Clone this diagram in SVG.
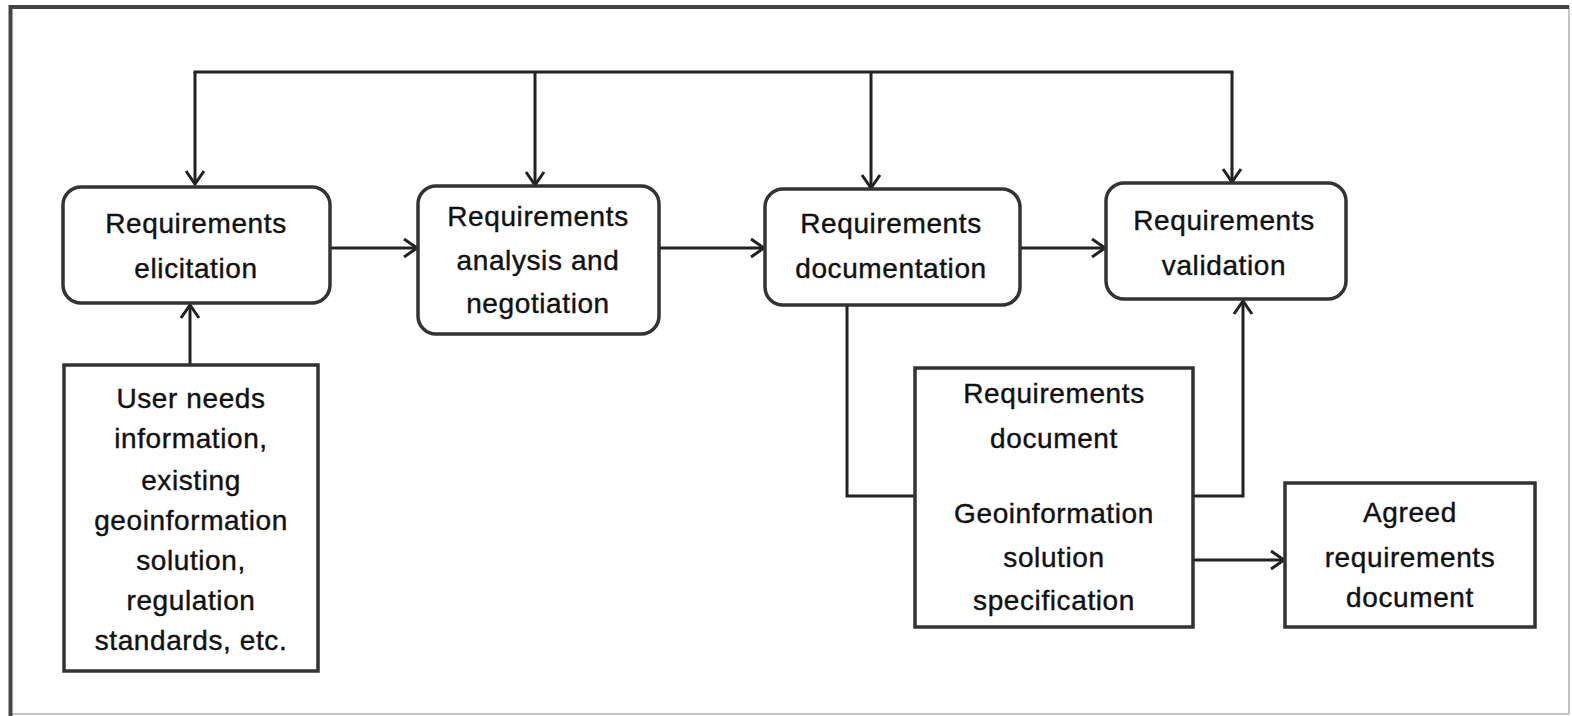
<svg xmlns="http://www.w3.org/2000/svg" width="1572" height="716" viewBox="0 0 1572 716">
  <style>
    .box { fill: #ffffff; stroke: #333333; stroke-width: 3.5; }
    .lbl { font-family: "Liberation Sans", Arial, sans-serif; font-size: 28px; fill: #111111; stroke: #111111; stroke-width: 0.4px; text-anchor: middle; letter-spacing: 0.6px; }
    .conn { fill: none; stroke: #222222; stroke-width: 3; }
  </style>
  <defs>
    <marker id="arr" markerUnits="userSpaceOnUse" markerWidth="18" markerHeight="22" viewBox="0 0 18 22" refX="16" refY="11" orient="auto">
      <path d="M3,2 L16,11 L3,20" fill="none" stroke="#222222" stroke-width="3"/>
    </marker>
  </defs>
  <rect x="0" y="0" width="1572" height="716" fill="#ffffff"/>
  <g id="frame">
    <line x1="1569" y1="6" x2="1569" y2="714" stroke="#b0b0b0" stroke-width="1.5"/>
    <line x1="10" y1="714" x2="1569" y2="714" stroke="#b0b0b0" stroke-width="1.5"/>
    <path d="M10.5,716 L10.5,7 L1569,7" fill="none" stroke="#444444" stroke-width="4"/>
  </g>
  <g id="connectors">
    <line class="conn" x1="193.5" y1="72" x2="1233.5" y2="72"/>
    <line class="conn" x1="195" y1="72" x2="195" y2="184" marker-end="url(#arr)"/>
    <line class="conn" x1="535" y1="72" x2="535" y2="185" marker-end="url(#arr)"/>
    <line class="conn" x1="871" y1="72" x2="871" y2="188" marker-end="url(#arr)"/>
    <line class="conn" x1="1232" y1="72" x2="1232" y2="182" marker-end="url(#arr)"/>
    <line class="conn" x1="190" y1="365" x2="190" y2="305" marker-end="url(#arr)"/>
    <line class="conn" x1="330" y1="248" x2="417" y2="248" marker-end="url(#arr)"/>
    <line class="conn" x1="660" y1="248" x2="764" y2="248" marker-end="url(#arr)"/>
    <line class="conn" x1="1020" y1="248" x2="1105" y2="248" marker-end="url(#arr)"/>
    <path class="conn" d="M847,305 L847,496 L915,496"/>
    <path class="conn" d="M1193,496 L1243,496 L1243,301" marker-end="url(#arr)"/>
    <line class="conn" x1="1193" y1="560" x2="1284" y2="560" marker-end="url(#arr)"/>
  </g>
  <g id="n-elicitation">
    <rect class="box" x="63" y="187" width="267" height="116" rx="18"/>
    <text class="lbl" x="196" y="233">Requirements</text>
    <text class="lbl" x="196" y="278">elicitation</text>
  </g>
  <g id="n-analysis">
    <rect class="box" x="418" y="186" width="241" height="148" rx="18"/>
    <text class="lbl" x="538" y="226">Requirements</text>
    <text class="lbl" x="538" y="270">analysis and</text>
    <text class="lbl" x="538" y="313">negotiation</text>
  </g>
  <g id="n-documentation">
    <rect class="box" x="765" y="189" width="255" height="116" rx="18"/>
    <text class="lbl" x="891" y="233">Requirements</text>
    <text class="lbl" x="891" y="278">documentation</text>
  </g>
  <g id="n-validation">
    <rect class="box" x="1106" y="183" width="240" height="116" rx="18"/>
    <text class="lbl" x="1224" y="230">Requirements</text>
    <text class="lbl" x="1224" y="275">validation</text>
  </g>
  <g id="n-userneeds">
    <rect class="box" x="64" y="365" width="254" height="306"/>
    <text class="lbl" x="191" y="408">User needs</text>
    <text class="lbl" x="191" y="448">information,</text>
    <text class="lbl" x="191" y="490">existing</text>
    <text class="lbl" x="191" y="530">geoinformation</text>
    <text class="lbl" x="191" y="570">solution,</text>
    <text class="lbl" x="191" y="610">regulation</text>
    <text class="lbl" x="191" y="650">standards, etc.</text>
  </g>
  <g id="n-reqdoc">
    <rect class="box" x="915" y="368" width="278" height="259"/>
    <text class="lbl" x="1054" y="403">Requirements</text>
    <text class="lbl" x="1054" y="448">document</text>
    <text class="lbl" x="1054" y="523">Geoinformation</text>
    <text class="lbl" x="1054" y="567">solution</text>
    <text class="lbl" x="1054" y="610">specification</text>
  </g>
  <g id="n-agreed">
    <rect class="box" x="1285" y="483" width="250" height="144"/>
    <text class="lbl" x="1410" y="522">Agreed</text>
    <text class="lbl" x="1410" y="567">requirements</text>
    <text class="lbl" x="1410" y="607">document</text>
  </g>
</svg>
